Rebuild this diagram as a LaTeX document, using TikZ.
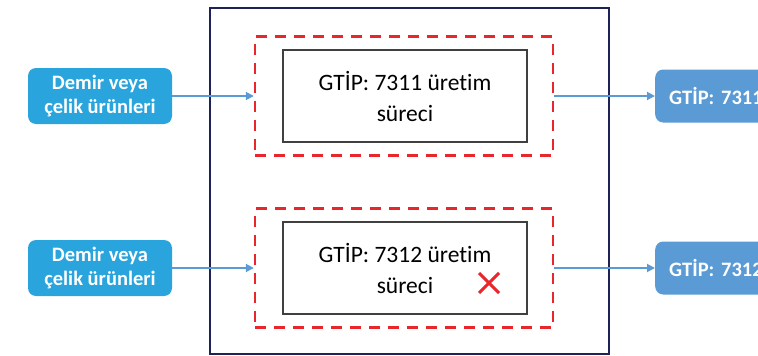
\documentclass[tikz,border=0pt]{standalone}
\usepackage{fontspec}
\setmainfont[Ligatures=NoCommon]{Carlito}
\usepackage{tikz}
\usetikzlibrary{arrows.meta}
\definecolor{navy}{HTML}{1F2159}
\definecolor{redd}{HTML}{E8262B}
\definecolor{inblue}{HTML}{29A4DC}
\definecolor{outblue}{HTML}{5B9BD5}
\definecolor{edge}{HTML}{404040}
\tikzset{
  frame/.style={draw=navy, line width=2.6pt},
  zone/.style={draw=redd, line width=2.4pt, dash pattern=on 11pt off 8pt,
    minimum width=298pt, minimum height=119pt},
  proc/.style={draw=edge, line width=1.3pt, fill=white, minimum width=244pt,
    minimum height=92pt, align=center, font=\fontsize{23.5}{31}\selectfont},
  inbox/.style={fill=inblue, rounded corners=8pt, minimum width=144pt,
    minimum height=56pt, align=center, text=white,
    font=\bfseries\fontsize{20.5}{24}\selectfont},
  outbox/.style={fill=outblue, rounded corners=8pt, minimum width=170pt,
    minimum height=53pt, anchor=west, text=white, inner xsep=14pt,
    text width=142pt, font=\bfseries\fontsize{20.5}{24}\selectfont},
  flow/.style={draw=outblue, line width=1.8pt, -{Triangle[length=8pt,width=8pt]}},
  cross/.style={draw=redd, line width=3pt},
}
\begin{document}
\begin{tikzpicture}[x=1pt,y=-1pt]
  \useasboundingbox (0,0) rectangle (758,356);
  \clip (0,0) rectangle (758,356);
  \draw[frame] (210,8) rectangle (609,354);
  \foreach \i/\y/\code in {1/96/7311,2/268/7312}{
    \node[zone] (zone\i) at (404,\y) {};
    \node[proc] (proc\i) at (405,\y) {GTİP: \code{} üretim\\süreci};
    \node[inbox] (in\i) at (100,\y) {Demir veya\\çelik ürünleri};
    \node[outbox] (out\i) at (655,\y) {GTİP: \code};
    \draw[flow] (in\i) -- (zone\i);
    \draw[flow] (zone\i) -- (out\i);
  }
  % mark on the second process
  \draw[cross] (479,273) -- (499,293) (499,273) -- (479,293);
\end{tikzpicture}
\end{document}
